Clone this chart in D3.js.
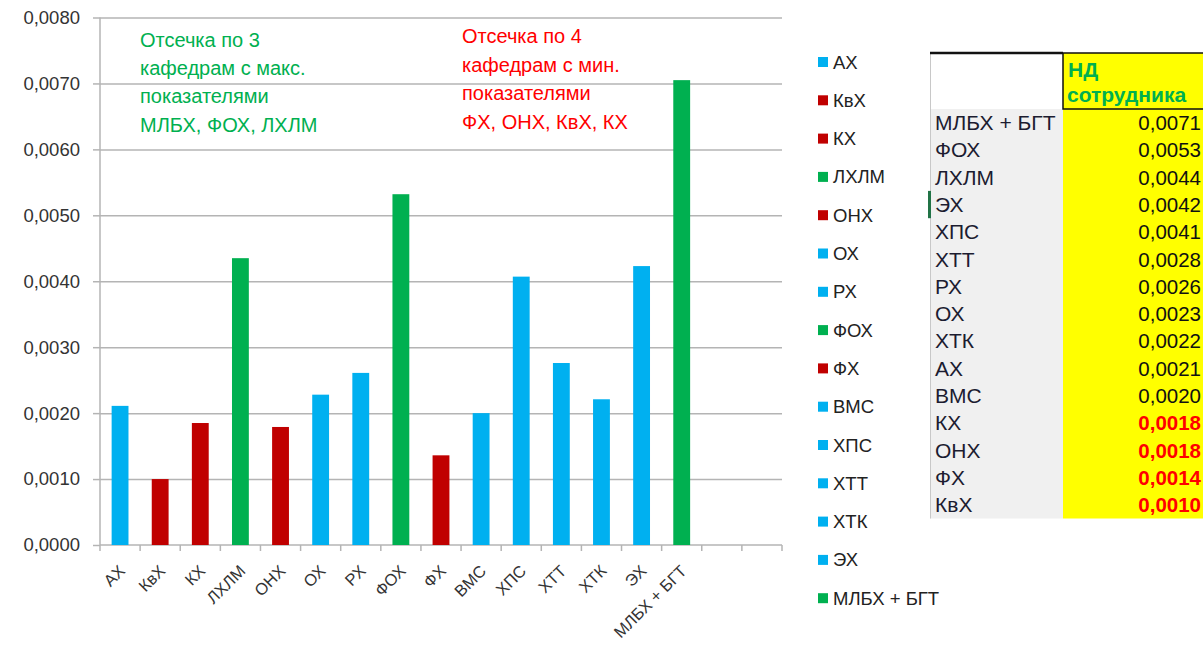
<!DOCTYPE html>
<html>
<head>
<meta charset="utf-8">
<script src="https://cdn.jsdelivr.net/npm/d3@7"></script>
<style>
  html, body { margin: 0; padding: 0; background: #fff; }
  svg { display: block; }
</style>
</head>
<body>
<svg id="chart" width="1203" height="645"></svg>
<script>
// ---------------- DATA ----------------
const categories = ["АХ","КвХ","КХ","ЛХЛМ","ОНХ","ОХ","РХ","ФОХ","ФХ","ВМС","ХПС","ХТТ","ХТК","ЭХ","МЛБХ + БГТ"];
const values     = [0.00211,0.00100,0.00185,0.00435,0.00179,0.00228,0.00261,0.00532,0.00136,0.00200,0.00407,0.00276,0.00221,0.00423,0.00705];
const groups     = ["mid","min","min","max","min","mid","mid","max","min","mid","mid","mid","mid","mid","max"];
const emptySlots = ["__e1","__e2"];
const yTicks     = [0,0.001,0.002,0.003,0.004,0.005,0.006,0.007,0.008];

const noteMax = ["Отсечка по 3","кафедрам с макс.","показателями","МЛБХ, ФОХ, ЛХЛМ"];
const noteMin = ["Отсечка по 4","кафедрам с мин.","показателями","ФХ, ОНХ, КвХ, КХ"];

const tableHeader = ["НД","сотрудника"];
const tableNames  = ["МЛБХ + БГТ","ФОХ","ЛХЛМ","ЭХ","ХПС","ХТТ","РХ","ОХ","ХТК","АХ","ВМС","КХ","ОНХ","ФХ","КвХ"];
const tableValues = [0.0071,0.0053,0.0044,0.0042,0.0041,0.0028,0.0026,0.0023,0.0022,0.0021,0.0020,0.0018,0.0018,0.0014,0.0010];
const tableLowFlag= [0,0,0,0,0,0,0,0,0,0,0,1,1,1,1];

// ---------------- STYLE ----------------
const colors = { mid: "#00B0F0", min: "#C00000", max: "#00B050" };
const font = "'Liberation Sans', Arial, sans-serif";
const gridColor = "#b4b4b4";
const fmt = v => d3.format(".4f")(v).replace(".", ",");

const svg = d3.select("#chart");
const plot = { left: 100, right: 782, top: 17.5, bottom: 545 };

const x = d3.scaleBand()
  .domain(categories.concat(emptySlots))
  .range([plot.left, plot.right])
  .paddingInner(0.58).paddingOuter(0.29);

const y = d3.scaleLinear().domain([0, 0.008]).range([plot.bottom, plot.top]);

// gridlines
svg.append("g")
  .attr("transform", `translate(${plot.left},0)`)
  .call(d3.axisLeft(y).tickValues(yTicks.slice(1)).tickSize(-(plot.right - plot.left)).tickFormat(""))
  .call(g => g.select(".domain").remove())
  .call(g => g.selectAll("line").attr("stroke", gridColor).attr("stroke-width", 1.5));

// y axis
svg.append("g")
  .attr("transform", `translate(${plot.left},0)`)
  .call(d3.axisLeft(y).tickValues(yTicks).tickSize(7).tickPadding(13).tickFormat(fmt))
  .call(g => g.select(".domain").attr("stroke", gridColor).attr("stroke-width", 1.5).attr("d", `M0,${plot.top}V${plot.bottom}`))
  .call(g => g.selectAll("line").attr("stroke", gridColor).attr("stroke-width", 1.5))
  .call(g => g.selectAll("text").attr("font-family", font).attr("font-size", 18.5).attr("fill", "#333"));

// x axis baseline + ticks at band boundaries
const bounds = x.domain().map(d => x(d) - x.step() * x.paddingInner() / 2);
bounds.push(plot.right);
const xg = svg.append("g");
xg.append("line")
  .attr("x1", plot.left).attr("x2", plot.right)
  .attr("y1", plot.bottom).attr("y2", plot.bottom)
  .attr("stroke", gridColor).attr("stroke-width", 1.5);
xg.selectAll("line.tk").data(bounds).join("line").attr("class", "tk")
  .attr("x1", d => d).attr("x2", d => d)
  .attr("y1", plot.bottom).attr("y2", plot.bottom + 6)
  .attr("stroke", gridColor).attr("stroke-width", 1.5);

// x labels
xg.selectAll("text.xl").data(categories).join("text").attr("class", "xl")
  .attr("transform", d => `translate(${x(d) + x.bandwidth() / 2 + 6},${plot.bottom + 27}) rotate(-45)`)
  .attr("text-anchor", "end")
  .attr("font-family", font).attr("font-size", 16.5).attr("fill", "#333")
  .text(d => d);

// bars
svg.append("g").selectAll("rect").data(categories).join("rect")
  .attr("x", d => x(d))
  .attr("width", x.bandwidth())
  .attr("y", (d, i) => y(values[i]))
  .attr("height", (d, i) => y(0) - y(values[i]))
  .attr("fill", (d, i) => colors[groups[i]]);

// annotations
function note(lines, xPos, y0, color) {
  svg.append("g").selectAll("text").data(lines).join("text")
    .attr("x", xPos).attr("y", (d, i) => y0 + i * 28.4)
    .attr("font-family", font).attr("font-size", 20).attr("fill", color)
    .text(d => d);
}
note(noteMax, 140, 46.5, "#00B050");
note(noteMin, 462, 43.3, "#FF0000");

// legend
const lg = svg.append("g");
categories.forEach((c, i) => {
  const cy = 62 + i * 38.3;
  lg.append("rect").attr("x", 818).attr("y", cy - 5).attr("width", 10).attr("height", 10)
    .attr("fill", colors[groups[i]]);
  lg.append("text").attr("x", 833).attr("y", cy + 6.5)
    .attr("font-family", font).attr("font-size", 18.5).attr("fill", "#222").text(c);
});

// table
const T = { left: 930, mid: 1063, right: 1203, top: 53, headBottom: 109, rowH: 27.3 };
const tg = svg.append("g");
const rowsBottom = T.headBottom + T.rowH * tableNames.length;
tg.append("rect").attr("x", T.left).attr("y", T.headBottom).attr("width", T.mid - T.left).attr("height", rowsBottom - T.headBottom).attr("fill", "#f0f0f0");
tg.append("rect").attr("x", T.mid).attr("y", T.top).attr("width", T.right - T.mid).attr("height", rowsBottom - T.top).attr("fill", "#FFFF00");
tg.append("line").attr("x1", T.left + 0.5).attr("x2", T.left + 0.5).attr("y1", T.top).attr("y2", rowsBottom).attr("stroke", "#c8c8c8").attr("stroke-width", 1);
tg.append("line").attr("x1", T.left).attr("x2", T.mid).attr("y1", T.top).attr("y2", T.top).attr("stroke", "#111").attr("stroke-width", 2.5);
tg.append("rect").attr("x", T.mid).attr("y", T.top).attr("width", T.right - T.mid + 2).attr("height", T.headBottom - T.top)
  .attr("fill", "none").attr("stroke", "#111").attr("stroke-width", 1.5);
tg.append("rect").attr("x", T.left - 2).attr("y", T.headBottom + T.rowH * 3).attr("width", 3).attr("height", T.rowH).attr("fill", "#217346");
tg.append("text").attr("x", T.mid + 5).attr("y", 77).attr("font-family", font).attr("font-size", 21).attr("font-weight", "bold").attr("fill", "#00B050").text(tableHeader[0]);
tg.append("text").attr("x", T.mid + 4).attr("y", 102).attr("font-family", font).attr("font-size", 21).attr("font-weight", "bold").attr("fill", "#00B050").text(tableHeader[1]);
tableNames.forEach((n, i) => {
  const by = T.headBottom + T.rowH * i + 21;
  tg.append("text").attr("x", T.left + 5).attr("y", by).attr("font-family", font).attr("font-size", 21).attr("fill", "#1c1c30").text(n);
  tg.append("text").attr("x", T.right - 2).attr("y", by).attr("text-anchor", "end")
    .attr("font-family", font).attr("font-size", 20.5)
    .attr("font-weight", tableLowFlag[i] ? "bold" : "normal")
    .attr("fill", tableLowFlag[i] ? "#FF0000" : "#111").text(fmt(tableValues[i]));
});
</script>
</body>
</html>
